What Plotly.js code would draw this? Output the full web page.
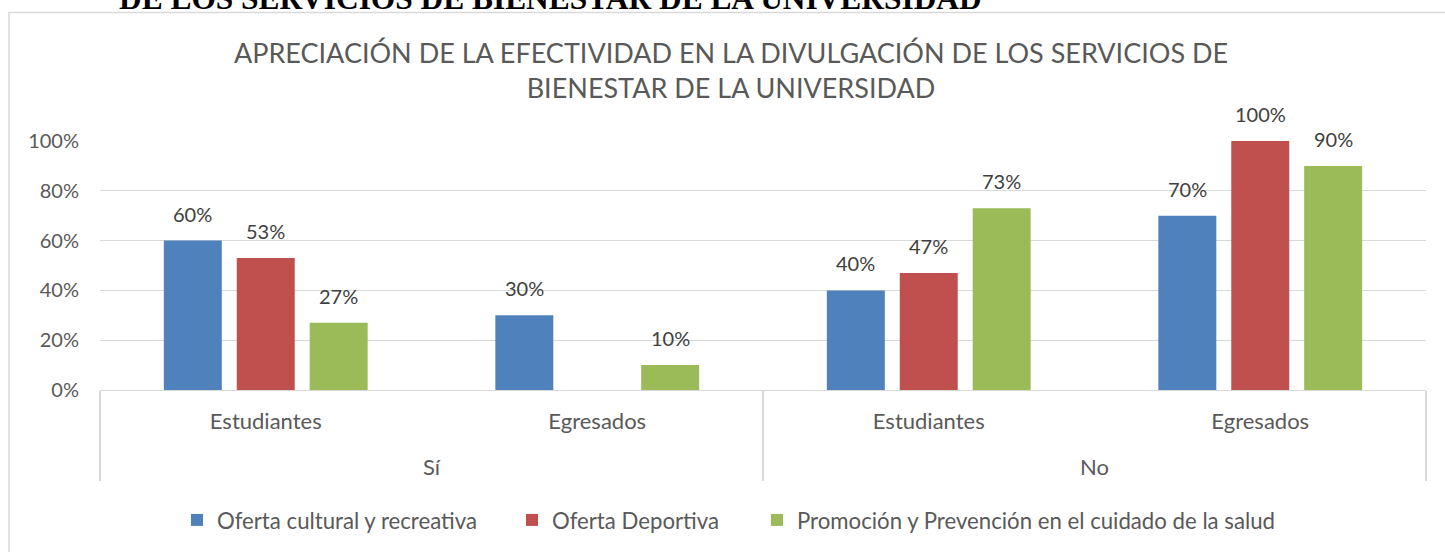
<!DOCTYPE html>
<html>
<head>
<meta charset="utf-8">
<script src="https://cdn.plot.ly/plotly-3.0.1.min.js"></script>
<style>
  html, body { margin: 0; padding: 0; background: #ffffff; }
  #chart { width: 1445px; height: 552px; }
</style>
</head>
<body>
<div id="chart"></div>
<script>
// ---- data ----
const outerGroups = ["Sí", "Sí", "No", "No"];
const innerGroups = ["Estudiantes", "Egresados", "Estudiantes", "Egresados"];
const seriesNames = ["Oferta cultural y recreativa", "Oferta Deportiva", "Promoción y Prevención en el cuidado de la salud"];
const culturalValues = [0.60, 0.30, 0.40, 0.70];
const deportivaValues = [0.53, null, 0.47, 1.00];
const saludValues = [0.27, 0.10, 0.73, 0.90];
const yTickValues = [0, 0.2, 0.4, 0.6, 0.8, 1.0];
const yTickLabels = ["0%", "20%", "40%", "60%", "80%", "100%"];
const titleText = "APRECIACIÓN DE LA EFECTIVIDAD EN LA DIVULGACIÓN DE LOS SERVICIOS DE<br>BIENESTAR DE LA UNIVERSIDAD";
const headingText = "DE LOS SERVICIOS DE BIENESTAR DE LA UNIVERSIDAD";

const colors = ["#4F81BD", "#C0504D", "#9BBB59"];
const allSeries = [culturalValues, deportivaValues, saludValues];
const FONT = "Lato, 'Open Sans', sans-serif";

// layout geometry
const W = 1445, H = 552;
const M = {l: 100, r: 19, t: 141, b: 161};
const plotW = W - M.l - M.r, plotH = H - M.t - M.b;
const pxX = px => (px - M.l) / plotW;
const pxY = py => (H - M.b - py) / plotH;
const bargap = 0.34, bargroupgap = 0.205;

// inner labels get an extra small line so the outer level sits lower, as in the reference
const innerLabels = innerGroups.map(s => s + "<br><span style='font-size:24px'>&nbsp;</span>");

const legendNames = ["legend", "legend2", "legend3"];
const traces = allSeries.map((vals, i) => ({
  type: "bar",
  name: seriesNames[i],
  x: [outerGroups, innerLabels],
  y: vals,
  marker: {color: colors[i], line: {width: 0}},
  legend: legendNames[i],
  showlegend: true,
  hoverinfo: "skip"
}));

// data labels computed from the values and the bar grouping
const nCat = innerGroups.length;
const slot = (1 - bargap) / allSeries.length;
const annotations = [];
allSeries.forEach((vals, i) => {
  vals.forEach((v, k) => {
    if (v === null) return;
    annotations.push({
      xref: "paper", yref: "y",
      x: (k + 0.5 + (i - 1) * slot) / nCat,
      y: v,
      xanchor: "center",
      text: Math.round(v * 100) + "%",
      showarrow: false,
      yanchor: "bottom",
      yshift: 13,
      font: {family: FONT, size: 20, color: "#404040"}
    });
  });
});
// cut-off document heading above the chart
annotations.push({
  xref: "paper", yref: "paper",
  x: pxX(550), y: pxY(-2),
  xanchor: "center", yanchor: "middle",
  text: "<b>" + headingText + "</b>",
  showarrow: false,
  font: {family: "'Liberation Serif', 'Times New Roman', serif", size: 31.4, color: "#000000"}
});

const legendX = [177, 512, 757];
const legendCommon = {
  orientation: "h",
  xanchor: "left", yanchor: "middle",
  y: pxY(520),
  font: {family: FONT, size: 22.2, color: "#595959"},
  bgcolor: "rgba(0,0,0,0)",
  itemwidth: 30
};

const layout = {
  width: W, height: H,
  margin: M,
  showlegend: true,
  paper_bgcolor: "#ffffff",
  plot_bgcolor: "#ffffff",
  font: {family: FONT, color: "#595959"},
  title: {
    text: titleText,
    font: {family: FONT, size: 27, color: "#595959"},
    x: pxX(731), xanchor: "center",
    xref: "paper",
    y: 1 - 63 / H, yref: "container", yanchor: "middle"
  },
  barmode: "group",
  bargap: bargap,
  bargroupgap: bargroupgap,
  xaxis: {
    type: "multicategory",
    showgrid: false,
    showline: true,
    linecolor: "#D9D9D9",
    linewidth: 1.3,
    showdividers: true,
    dividercolor: "#D9D9D9",
    dividerwidth: 1.3,
    ticks: "",
    ticklabelstandoff: 11,
    tickfont: {family: FONT, size: 22, color: "#595959"},
    fixedrange: true
  },
  yaxis: {
    range: [0, 1],
    tickvals: yTickValues,
    ticktext: yTickLabels,
    showgrid: true,
    gridcolor: "#D9D9D9",
    gridwidth: 1.3,
    zeroline: false,
    showline: false,
    ticks: "",
    ticklabelstandoff: 20,
    tickfont: {family: FONT, size: 20, color: "#595959"},
    fixedrange: true
  },
  legend: Object.assign({}, legendCommon, {x: pxX(legendX[0])}),
  legend2: Object.assign({}, legendCommon, {x: pxX(legendX[1])}),
  legend3: Object.assign({}, legendCommon, {x: pxX(legendX[2])}),
  annotations: annotations,
  shapes: [{
    type: "rect", xref: "paper", yref: "paper",
    x0: pxX(9), x1: pxX(1460), y0: pxY(570), y1: pxY(12),
    line: {color: "#D9D9D9", width: 1.5},
    fillcolor: "rgba(0,0,0,0)",
    layer: "below"
  }]
};

Plotly.newPlot("chart", traces, layout, {displayModeBar: false, staticPlot: true});
</script>
</body>
</html>
